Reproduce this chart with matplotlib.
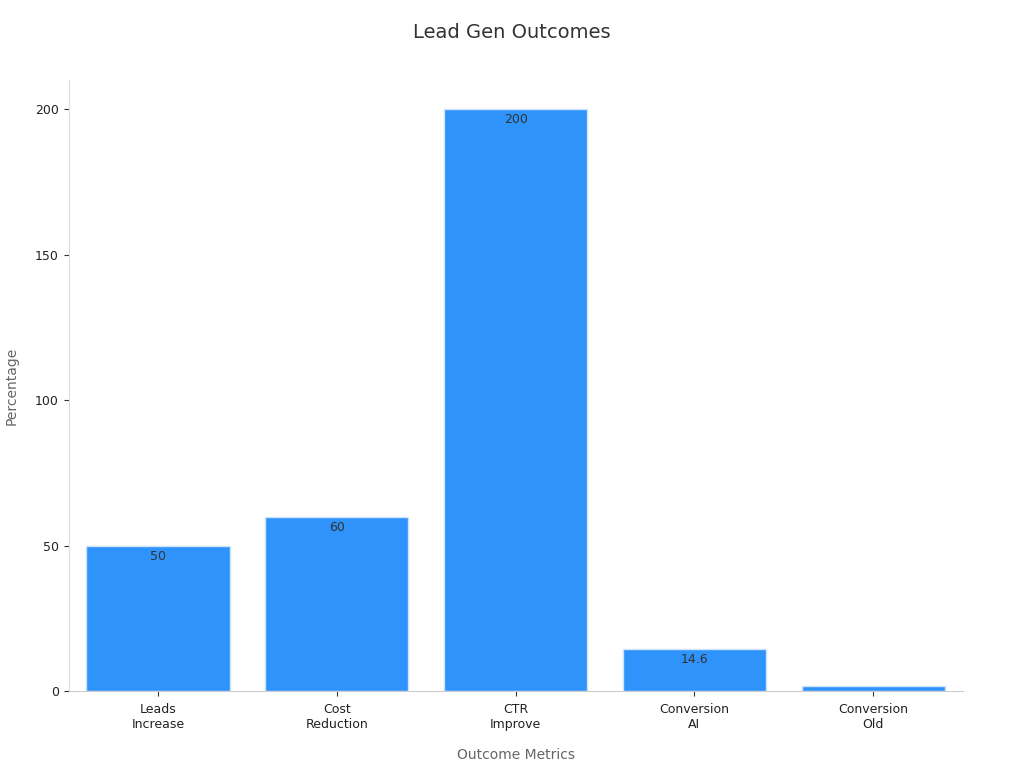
import matplotlib.pyplot as plt

categories = ["Leads\nIncrease", "Cost\nReduction", "CTR\nImprove", "Conversion\nAI", "Conversion\nOld"]
values = [50, 60, 200, 14.6, 1.7]
value_labels = ["50", "60", "200", "14.6", "1.7"]

fig = plt.figure(figsize=(10.24, 7.68), dpi=100)
ax = fig.add_axes([0.067, 0.1, 0.873, 0.796])

x = range(len(categories))
bars = ax.bar(x, values, width=0.8, color="#2e93fa", edgecolor="#cfe3fb", linewidth=1)
# labels sit just inside the top of each bar, clipped to the bar
for i, (v, lab, b) in enumerate(zip(values, value_labels, bars)):
    t = ax.text(i, v - 1.5, lab, ha="center", va="top", fontsize=9, color="#333333")
    t.set_clip_on(True)
    t.set_clip_path(b)

ax.set_xlim(-0.5, 4.5)
ax.set_ylim(0, 210)
ax.set_yticks([0, 50, 100, 150, 200])
ax.set_xticks(list(x))
ax.set_xticklabels(categories, fontsize=9, color="#222222")
ax.tick_params(axis="x", pad=5)
ax.tick_params(axis="y", labelsize=9, colors="#222222")
ax.tick_params(color="#333333")
for s in ["top", "right"]:
    ax.spines[s].set_visible(False)
ax.spines["left"].set_color("#dddddd")
ax.spines["bottom"].set_color("#cccccc")

ax.set_xlabel("Outcome Metrics", fontsize=10, color="#666666", labelpad=12)
ax.set_ylabel("Percentage", fontsize=10, color="#666666", labelpad=12)
fig.suptitle("Lead Gen Outcomes", fontsize=14, color="#333333", y=0.97)

fig.savefig("out.png")
